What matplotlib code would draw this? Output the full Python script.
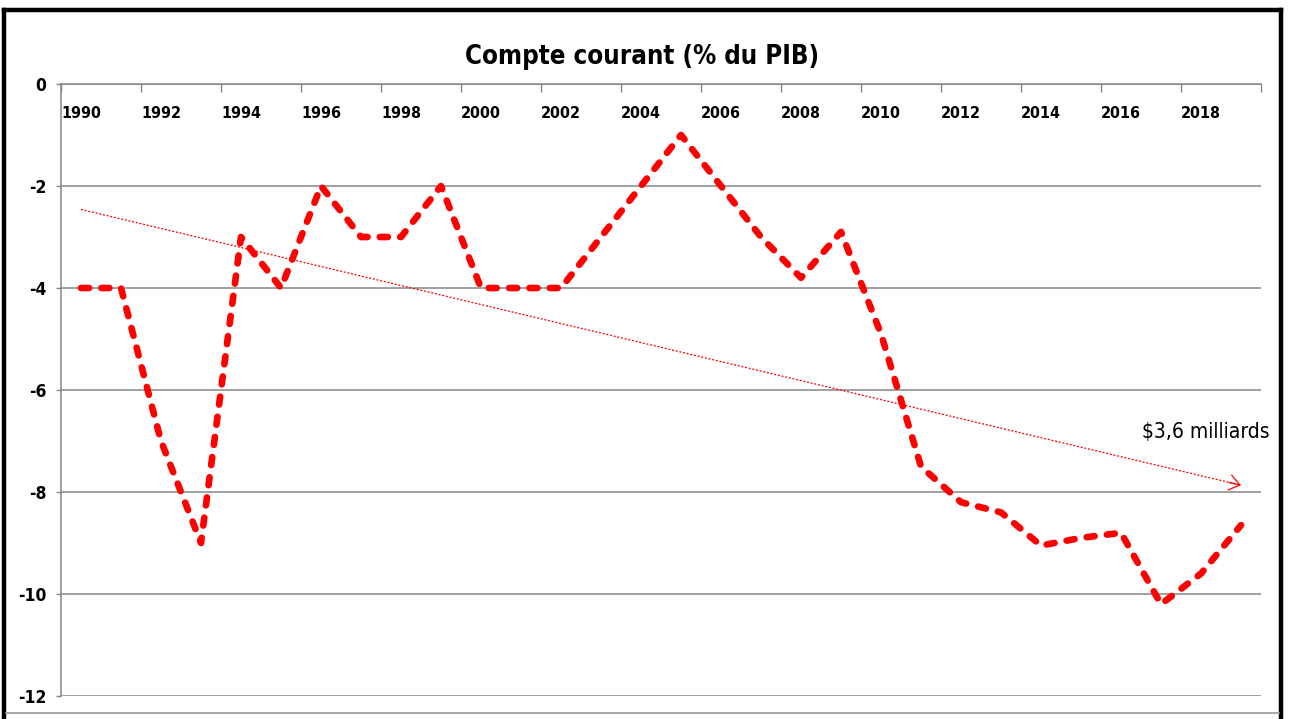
import numpy as np
import matplotlib
matplotlib.use("Agg")
import matplotlib.pyplot as plt
from matplotlib.lines import Line2D

plt.rcParams['axes.unicode_minus'] = False
FAM = ['DejaVu Sans']
STR = 'condensed'

# ---- data ----
years = list(range(1990, 2020))
values = [-4, -4, -7, -9, -3, -4, -2, -3, -3, -2,
          -4, -4, -4, -3, -2, -1, -2, -3, -3.8, -2.9,
          -4.9, -7.5, -8.2, -8.4, -9.05, -8.9, -8.8, -10.2, -9.6, -8.65]
label_years = years[::2]
y_ticks = [0, -2, -4, -6, -8, -10, -12]
title = "Compte courant (% du PIB)"
note = "$3,6 milliards"

W, H = 1290, 719
fig = plt.figure(figsize=(W / 100, H / 100), dpi=100)
fig.patch.set_facecolor('white')
ax = fig.add_axes([61 / W, 1 - 696 / H, 1200 / W, 612 / H])

GRAY = '#868686'

# main series
ax.plot(years, values, color='#FF0000', lw=4.8,
        linestyle=(0, (1.2, 1.85)), dash_capstyle='round',
        dash_joinstyle='round', zorder=4)

# linear trend
coef = np.polyfit(years, values, 1)
tx = np.array([years[0], years[-1]], dtype=float)
ty = np.polyval(coef, tx)
ax.plot(tx, ty, color='#FF0000', lw=0.9, linestyle=(0, (1.6, 1.4)), zorder=3)
pre = tx[1] - 0.3
ax.annotate('', xy=(tx[1], ty[1]), xytext=(pre, np.polyval(coef, pre)),
            arrowprops=dict(arrowstyle='->,head_length=0.75,head_width=0.55',
                            color='#FF0000', lw=0.9, shrinkA=0, shrinkB=0),
            zorder=3)

# axes setup
ax.set_xlim(years[0] - 0.5, years[-1] + 0.5)
ax.set_ylim(-12, 0)
ax.xaxis.tick_top()
ax.set_xticks(np.arange(years[0] - 0.5, years[-1] + 1, 2))
ax.tick_params(axis='x', direction='in', length=5.5, width=1, colors=GRAY,
               labeltop=False, labelbottom=False)
ax.set_yticks(y_ticks)
ax.set_yticklabels([str(v) for v in y_ticks])
ax.tick_params(axis='y', direction='out', length=3.5, width=1, color=GRAY,
               pad=7, labelsize=12.5)
for lab in ax.get_yticklabels():
    lab.set_fontfamily(FAM)
    lab.set_fontstretch(STR)
    lab.set_fontweight('bold')
ax.yaxis.grid(True, color=GRAY, lw=1.1, zorder=1)
ax.set_axisbelow(True)
for s in ['right', 'bottom']:
    ax.spines[s].set_visible(False)
for s in ['left', 'top']:
    ax.spines[s].set_color(GRAY)
    ax.spines[s].set_linewidth(1.1)

for yr in label_years:
    ax.text(yr, -0.57, str(yr), ha='center', va='center', fontsize=11.5,
            fontweight='bold', family=FAM, fontstretch=STR, clip_on=False)

ax.text(2018.13, -6.82, note, ha='center', va='center', fontsize=15,
        family=FAM, fontstretch=STR, color='black', clip_on=False)

fig.text(642 / W, 1 - 57 / H, title, ha='center', va='center', fontsize=18.5,
         fontweight='bold', family=FAM, fontstretch=STR)

# outer frame (black) and inner gray line
k = dict(transform=fig.transFigure, color='black', lw=3.2, solid_capstyle='projecting')
fig.add_artist(Line2D([4 / W, 4 / W], [0, 1 - 10 / H], **k))
fig.add_artist(Line2D([4 / W, 1281 / W], [1 - 10 / H, 1 - 10 / H], **k))
fig.add_artist(Line2D([1281 / W, 1281 / W], [1 - 10 / H, 0], **k))
fig.add_artist(Line2D([6 / W, 1279 / W], [1 - 712.5 / H, 1 - 712.5 / H],
                      transform=fig.transFigure, color='#9a9a9a', lw=1.2))

fig.savefig('out.png', dpi=100)
